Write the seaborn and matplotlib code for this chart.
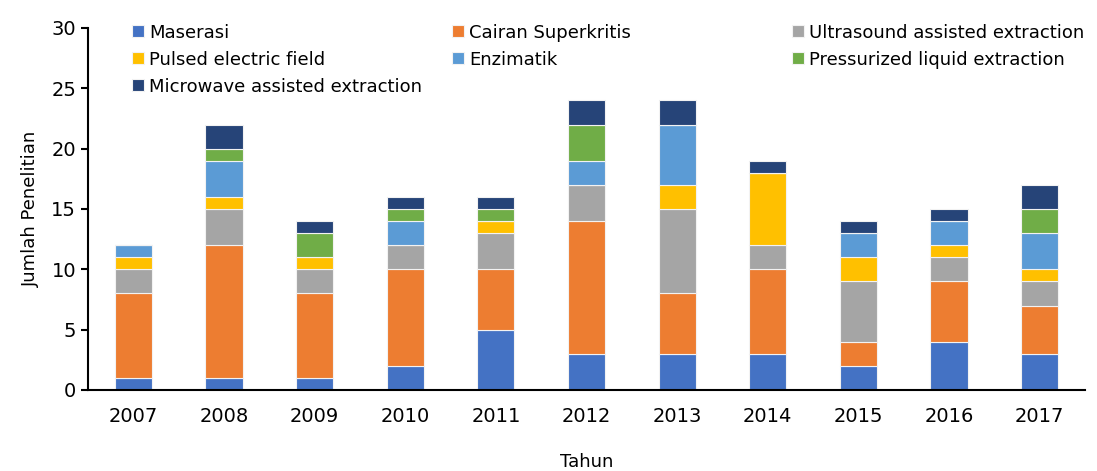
import numpy as np
import pandas as pd
import seaborn as sns
import matplotlib.pyplot as plt

tahun = ['2007', '2008', '2009', '2010', '2011', '2012', '2013', '2014', '2015', '2016', '2017']
metode = ['Maserasi', 'Cairan Superkritis', 'Ultrasound assisted extraction',
          'Pulsed electric field', 'Enzimatik', 'Pressurized liquid extraction',
          'Microwave assisted extraction']
maserasi    = [1, 1, 1, 2, 5, 3, 3, 3, 2, 4, 3]
superkritis = [7, 11, 7, 8, 5, 11, 5, 7, 2, 5, 4]
ultrasound  = [2, 3, 2, 2, 3, 3, 7, 2, 5, 2, 2]
pulsed      = [1, 1, 1, 0, 1, 0, 2, 6, 2, 1, 1]
enzimatik   = [1, 3, 0, 2, 0, 2, 5, 0, 2, 2, 3]
pressurized = [0, 1, 2, 1, 1, 3, 0, 0, 0, 0, 2]
microwave   = [0, 2, 1, 1, 1, 2, 2, 1, 1, 1, 2]
warna = ['#4472C4', '#ED7D31', '#A5A5A5', '#FFC000', '#5B9BD5', '#70AD47', '#264478']

seri = [maserasi, superkritis, ultrasound, pulsed, enzimatik, pressurized, microwave]

sns.set_style('white')
plt.rcParams['font.family'] = ['DejaVu Sans']
plt.rcParams['text.color'] = 'black'
plt.rcParams['axes.labelcolor'] = 'black'
plt.rcParams['xtick.color'] = 'black'
plt.rcParams['ytick.color'] = 'black'

fig = plt.figure(figsize=(10.97, 4.71), dpi=100)
ax = fig.add_axes([0.0802, 0.172, 0.9088, 0.7686])

bawah = np.zeros(len(tahun))
for nama, nilai, c in zip(metode, seri, warna):
    df = pd.DataFrame({'Tahun': tahun, 'Jumlah': nilai})
    sns.barplot(data=df, x='Tahun', y='Jumlah', color=c, bottom=bawah, width=0.41,
                saturation=1, edgecolor='#F2F2F2', linewidth=0.8, label=nama, ax=ax)
    bawah += np.array(nilai)

ax.set_ylim(0, 30)
ax.set_xlim(-0.5, 10.5)
ax.set_yticks(range(0, 31, 5))
ax.tick_params(axis='y', direction='out', length=5, width=1.5, labelsize=14, left=True)
ax.tick_params(axis='x', length=0, labelsize=14, pad=12)
for s in ['top', 'right']:
    ax.spines[s].set_visible(False)
for s in ['left', 'bottom']:
    ax.spines[s].set_color('black')
    ax.spines[s].set_linewidth(1.5)
ax.set_xlabel('Tahun', fontsize=13, labelpad=20)
ax.set_ylabel('Jumlah Penelitian', fontsize=13, labelpad=8)

# three legend columns placed like the original
h, l = ax.get_legend_handles_labels()
kolom = [([0, 3, 6], 0.044), ([1, 4], 0.365), ([2, 5], 0.706)]
for n, (idx, xpos) in enumerate(kolom):
    lg = ax.legend([h[i] for i in idx], [l[i] for i in idx], frameon=False,
                   fontsize=13, loc='upper left', bbox_to_anchor=(xpos, 1.012),
                   handlelength=0.65, handleheight=0.65, handletextpad=0.3,
                   labelspacing=0.5, borderaxespad=0, borderpad=0)
    if n < len(kolom) - 1:
        ax.add_artist(lg)

fig.savefig('out.png', dpi=100)
